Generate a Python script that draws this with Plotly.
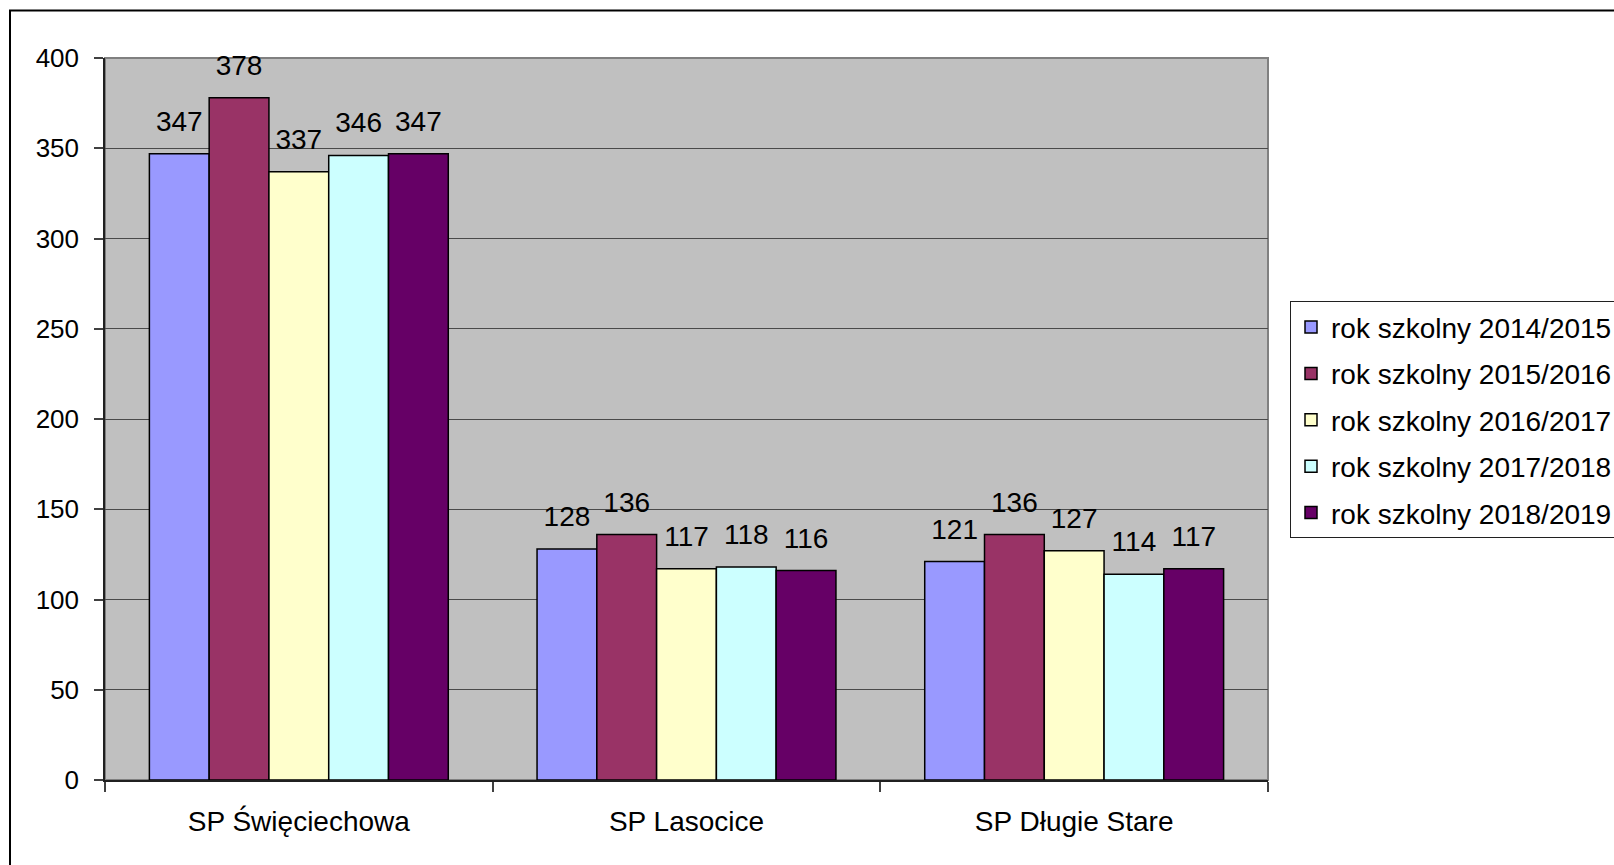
import plotly.graph_objects as go

categories = ["SP Święciechowa", "SP Lasocice", "SP Długie Stare"]
series_names = ["rok szkolny 2014/2015", "rok szkolny 2015/2016", "rok szkolny 2016/2017",
                "rok szkolny 2017/2018", "rok szkolny 2018/2019"]
values_2014 = [347, 128, 121]
values_2015 = [378, 136, 136]
values_2016 = [337, 117, 127]
values_2017 = [346, 118, 114]
values_2018 = [347, 116, 117]
colors = ["#9999FF", "#993366", "#FFFFCC", "#CCFFFF", "#660066"]
y_ticks = [0, 50, 100, 150, 200, 250, 300, 350, 400]

series_values = [values_2014, values_2015, values_2016, values_2017, values_2018]

FONT = "Liberation Sans, Arial, sans-serif"
BARGAP = 0.229

fig = go.Figure()
for i, (name, vals, col) in enumerate(zip(series_names, series_values, colors)):
    fig.add_trace(go.Bar(
        x=categories, y=vals, name=name,
        marker=dict(color=col, line=dict(color="black", width=1.5)),
        offsetgroup=f"s{i}", legendgroup=f"g{i}",
    ))
# value labels, grouped like the bars
for i, (name, vals) in enumerate(zip(series_names, series_values)):
    fig.add_trace(go.Scatter(
        x=categories, y=vals, mode="markers+text",
        marker=dict(size=24, opacity=0, color="black"),
        text=[str(v) for v in vals], textposition="top center",
        textfont=dict(family=FONT, size=28, color="black"),
        offsetgroup=f"s{i}", legendgroup=f"g{i}", showlegend=False,
        cliponaxis=False, hoverinfo="skip",
    ))

fig.update_layout(
    width=1614, height=865,
    barmode="group", bargap=BARGAP, bargroupgap=0,
    scattermode="group", scattergap=BARGAP,
    paper_bgcolor="white", plot_bgcolor="#C0C0C0",
    margin=dict(l=105, r=346, t=58, b=85, autoexpand=False),
    font=dict(family=FONT, size=26, color="black"),
    legend=dict(
        x=(1290 - 105) / 1163, y=0.663, xanchor="left", yanchor="top",
        bordercolor="#202020", borderwidth=1, bgcolor="white",
        font=dict(family=FONT, size=28, color="black"),
        tracegroupgap=7, traceorder="grouped",
    ),
    showlegend=True,
)
fig.update_yaxes(
    range=[0, 400], tickvals=y_ticks, ticktext=[str(t) for t in y_ticks],
    showgrid=True, gridcolor="#4a4a4a", gridwidth=1,
    showline=True, linecolor="#202020", linewidth=1.5,
    ticks="outside", ticklen=9, tickcolor="#404040", tickwidth=1.5,
    ticklabelstandoff=10, zeroline=False,
    tickfont=dict(family=FONT, size=26, color="black"),
)
fig.update_xaxes(
    showline=True, linecolor="#202020", linewidth=1.5,
    ticks="outside", ticklen=10, tickcolor="#404040", tickwidth=1.5,
    tickson="boundaries", showgrid=False,
    tickfont=dict(family=FONT, size=28, color="black"),
    ticklabelstandoff=16,
)
# plot-area border (grey, top and right)
fig.add_shape(type="rect", xref="paper", yref="paper", x0=0, x1=1, y0=0, y1=1,
              line=dict(color="#808080", width=2), fillcolor="rgba(0,0,0,0)", layer="below")
# outer chart frame (partly outside the visible page)
fig.add_shape(type="rect", xref="paper", yref="paper",
              x0=(10 - 105) / 1163, x1=1.6, y0=-0.5, y1=(780 - 10) / 722.4,
              line=dict(color="black", width=2), fillcolor="rgba(0,0,0,0)", layer="above")

fig.write_html("out.html", config={"displayModeBar": False},
               post_script="document.body.style.margin='0';document.body.style.overflow='hidden';")
